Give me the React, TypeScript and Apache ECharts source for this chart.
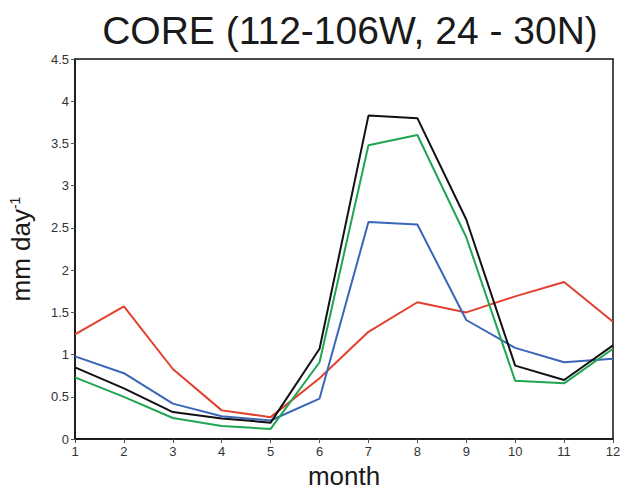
import React, { useEffect, useRef } from "react";
import * as echarts from "echarts";

const months = [1, 2, 3, 4, 5, 6, 7, 8, 9, 10, 11, 12];
const blackSeries = [0.85, 0.6, 0.32, 0.245, 0.195, 1.07, 3.83, 3.8, 2.6, 0.87, 0.7, 1.11];
const greenSeries = [0.73, 0.5, 0.25, 0.155, 0.12, 0.91, 3.48, 3.6, 2.39, 0.69, 0.66, 1.07];
const blueSeries = [0.98, 0.78, 0.42, 0.27, 0.22, 0.48, 2.57, 2.54, 1.41, 1.08, 0.91, 0.95];
const redSeries = [1.24, 1.57, 0.83, 0.34, 0.26, 0.72, 1.27, 1.62, 1.5, 1.69, 1.86, 1.39];

const titleText = "CORE (112-106W, 24 - 30N)";

function pairs(vals: number[]) {
  return months.map((m, i) => [m, vals[i]]);
}

export default function App() {
  const ref = useRef<HTMLDivElement>(null);
  useEffect(() => {
    if (!ref.current) return;
    const chart = echarts.init(ref.current, undefined, { renderer: "svg" });
    const font = "Liberation Sans, Arial, sans-serif";
    const mk = (name: string, data: number[], color: string) => ({
      name,
      type: "line",
      data: pairs(data),
      showSymbol: false,
      symbol: "none",
      lineStyle: { color, width: 2 },
      itemStyle: { color },
    });
    chart.setOption({
      animation: false,
      backgroundColor: "#fff",
      textStyle: { fontFamily: font },
      title: {
        text: titleText,
        left: 345,
        textAlign: "center",
        top: 6,
        textStyle: { fontSize: 39, fontWeight: "normal", color: "#1a1a1a", fontFamily: font },
      },
      grid: {
        left: 74,
        right: 19,
        top: 59,
        bottom: 49,
        show: true,
        borderColor: "#111",
        borderWidth: 1.5,
        backgroundColor: "transparent",
      },
      xAxis: {
        type: "value",
        min: 1,
        max: 12,
        interval: 1,
        name: "month",
        nameLocation: "middle",
        nameGap: 22,
        nameTextStyle: { fontSize: 26, color: "#1a1a1a", fontFamily: font },
        axisLine: { show: true, onZero: false, lineStyle: { color: "#111", width: 1.5 } },
        axisTick: { show: true, length: 4, lineStyle: { color: "#555" } },
        axisLabel: { fontSize: 13, color: "#333", margin: 6, fontFamily: font },
        splitLine: { show: false },
      },
      yAxis: {
        type: "value",
        min: 0,
        max: 4.5,
        interval: 0.5,
        name: "{a|mm day}{b|-1}",
        nameLocation: "middle",
        nameGap: 41,
        nameTextStyle: {
          fontSize: 26,
          color: "#1a1a1a",
          fontFamily: font,
          rich: {
            a: { fontSize: 26, color: "#1a1a1a", fontFamily: font },
            b: { fontSize: 14, color: "#1a1a1a", fontFamily: font, verticalAlign: "top", padding: [0, 0, 12, 0] },
          },
        },
        axisLine: { show: true, lineStyle: { color: "#111", width: 1.5 } },
        axisTick: { show: true, length: 4, lineStyle: { color: "#555" } },
        axisLabel: { fontSize: 13, color: "#333", margin: 6, fontFamily: font },
        splitLine: { show: false },
      },
      series: [
        mk("red", redSeries, "#e2402f"),
        mk("blue", blueSeries, "#3a66b8"),
        mk("green", greenSeries, "#1fa650"),
        mk("black", blackSeries, "#111111"),
      ],
    });
    return () => chart.dispose();
  }, []);
  return <div ref={ref} style={{ width: 632, height: 494, position: "absolute", left: 0, top: 0 }} />;
}
